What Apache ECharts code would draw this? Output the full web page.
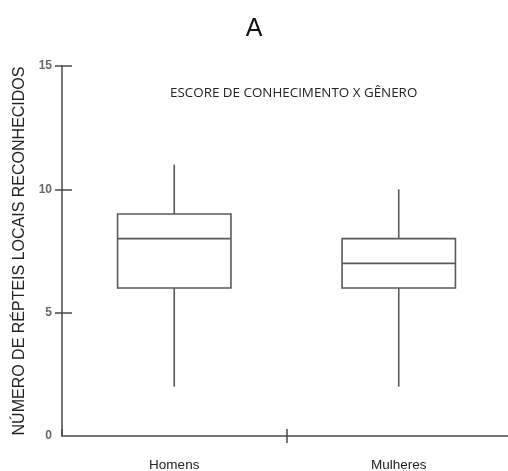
<!DOCTYPE html>
<html><head><meta charset="utf-8">
<script src="https://cdn.jsdelivr.net/npm/echarts@6/dist/echarts.min.js"></script>
<style>html,body{margin:0;padding:0;background:#fff}#c{width:508px;height:471px}</style>
</head><body><div id="c"></div>
<script>
const categories = ['Homens', 'Mulheres'];
const whiskerMin = [2, 2];
const q1 = [6, 6];
const median = [8, 7];
const q3 = [9, 8];
const whiskerMax = [11, 10];
const yTicks = [0, 5, 10, 15];

const chart = echarts.init(document.getElementById('c'));
const data = categories.map((c, i) => [i, whiskerMin[i], q1[i], median[i], q3[i], whiskerMax[i]]);
const lineColor = '#5a5a5a';
const axisColor = '#4a4a4a';

function renderItem(params, api) {
  const i = api.value(0);
  const w = api.size([1, 0])[0] * 0.505;
  const pMin = api.coord([i, api.value(1)]);
  const pQ1 = api.coord([i, api.value(2)]);
  const pMed = api.coord([i, api.value(3)]);
  const pQ3 = api.coord([i, api.value(4)]);
  const pMax = api.coord([i, api.value(5)]);
  const x = pMed[0];
  const st = {stroke: lineColor, lineWidth: 1.6, fill: null};
  return {
    type: 'group',
    children: [
      {type: 'line', shape: {x1: x, y1: pMin[1], x2: x, y2: pQ1[1]}, style: st},
      {type: 'line', shape: {x1: x, y1: pQ3[1], x2: x, y2: pMax[1]}, style: st},
      {type: 'rect', shape: {x: x - w / 2, y: pQ3[1], width: w, height: pQ1[1] - pQ3[1]}, style: {stroke: lineColor, lineWidth: 1.6, fill: 'none'}},
      {type: 'line', shape: {x1: x - w / 2, y1: pMed[1], x2: x + w / 2, y2: pMed[1]}, style: st}
    ]
  };
}

const yBase = {
  type: 'value', min: yTicks[0], max: yTicks[yTicks.length - 1], interval: 5,
  splitLine: {show: false}
};

chart.setOption({
  animation: false,
  title: [
    {text: 'A', left: 'center', top: 12, textStyle: {fontFamily: 'Liberation Sans, Arial', fontSize: 25, fontWeight: 'normal', color: '#111'}},
    {text: 'ESCORE DE CONHECIMENTO X GÊNERO', left: 165, top: 82, textStyle: {fontFamily: 'Open Sans', fontSize: 13.4, fontWeight: 'normal', color: '#222'}}
  ],
  grid: {left: 62, width: 449, top: 66, bottom: 35, outerBoundsMode: 'none', containLabel: false},
  xAxis: [
    {
      type: 'category', data: categories, position: 'bottom', boundaryGap: true,
      axisLine: {show: true, onZero: false, lineStyle: {color: axisColor, width: 1.5}},
      axisTick: {show: true, inside: true, length: 7, lineStyle: {color: axisColor, width: 1.5}},
      axisLabel: {show: true, margin: 22, fontFamily: 'Liberation Sans, Arial', fontSize: 13.5, color: '#222'}
    },
    {
      type: 'value', position: 'bottom', min: -0.5, max: 1.5,
      splitLine: {show: false},
      axisLine: {show: false, onZero: false},
      axisTick: {show: true, inside: false, length: 7, customValues: [0.5], lineStyle: {color: axisColor, width: 1.5}},
      axisLabel: {show: false}
    }
  ],
  yAxis: [
    Object.assign({}, yBase, {
      position: 'left',
      name: 'NÚMERO DE RÉPTEIS LOCAIS RECONHECIDOS', nameLocation: 'middle', nameGap: 28,
      nameTextStyle: {fontFamily: 'Liberation Sans, Arial', fontSize: 16, color: '#222'},
      axisLine: {show: true, onZero: false, lineStyle: {color: axisColor, width: 1.5}},
      axisTick: {show: true, inside: false, length: 7, customValues: [5, 10, 15], lineStyle: {color: axisColor, width: 1.5}},
      axisLabel: {show: true, margin: 10, fontFamily: 'Liberation Sans, Arial', fontSize: 12, fontWeight: 'bold', color: '#666'}
    }),
    Object.assign({}, yBase, {
      position: 'left',
      axisLine: {show: false, onZero: false},
      axisTick: {show: true, inside: true, length: 10, customValues: [5, 10, 15], lineStyle: {color: axisColor, width: 1.5}},
      axisLabel: {show: false}
    })
  ],
  series: [{
    type: 'custom', renderItem: renderItem, data: data, xAxisIndex: 0, yAxisIndex: 0,
    encode: {x: 0, y: [1, 2, 3, 4, 5]}
  }]
});
</script></body></html>
